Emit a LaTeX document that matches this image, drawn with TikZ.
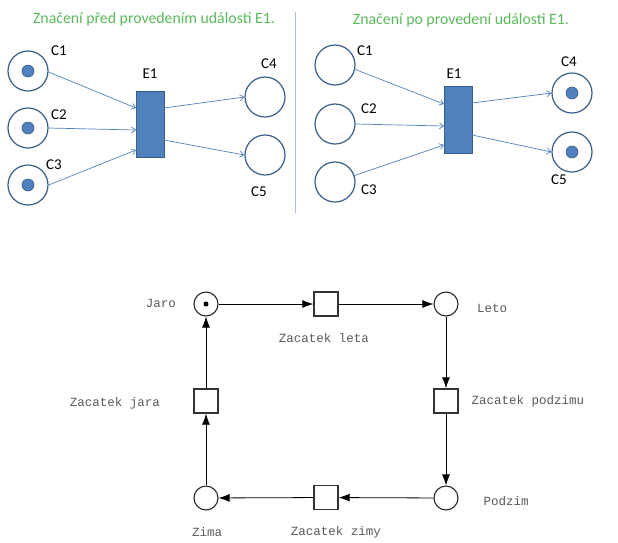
\documentclass[tikz,border=0pt]{standalone}
\usepackage{fontspec}
\setmainfont{Carlito}
\newfontfamily\monofont{Liberation Mono}
\usetikzlibrary{arrows.meta}
\definecolor{ofblue}{RGB}{79,129,189}
\definecolor{ofdark}{RGB}{56,93,138}
\definecolor{ofgreen}{RGB}{90,185,90}
\definecolor{sepcol}{RGB}{175,190,210}
\tikzset{
  title/.style={text=ofgreen,font=\fontsize{15.8}{18}\selectfont,inner sep=0pt},
  lab/.style={font=\fontsize{15}{17}\selectfont,inner sep=0pt},
  place/.style={circle,draw=ofdark,line width=1.2pt,minimum size=40pt,inner sep=0pt},
  token/.style={circle,fill=ofblue,draw=ofdark,line width=0.6pt,minimum size=12pt,inner sep=0pt},
  trans/.style={rectangle,fill=ofblue,draw=ofdark,line width=0.8pt,inner sep=0pt},
  barrow/.style={draw=ofblue,line width=0.7pt,-{Straight Barb[length=4pt,width=6pt]}},
  bplace/.style={circle,draw=black!85,line width=1.1pt,minimum size=24pt,inner sep=0pt},
  btrans/.style={rectangle,draw=black!80,line width=1.3pt,minimum size=24pt,inner sep=0pt},
  btok/.style={circle,fill=black,minimum size=5pt,inner sep=0pt},
  mlab/.style={text=black!65,font=\monofont\fontsize{12.5}{14}\selectfont,inner sep=0pt},
  karrow/.style={draw=black,line width=0.8pt,-{Latex[length=11pt,width=8pt]}}
}
\begin{document}
\begin{tikzpicture}[x=1pt,y=-1pt]
\useasboundingbox (0,0) rectangle (618,542);
% ---------- left panel ----------
\node[title] (t1) at (154,19) {Značení před provedením události E1.};
\draw[sepcol,line width=1pt] (295,12) -- (295,213);
\node[place] (lc1) at (28,71) {};
\node[token] at (lc1) {};
\node[place] (lc2) at (28,128) {};
\node[token] at (lc2) {};
\node[place] (lc3) at (28,185) {};
\node[token] at (lc3) {};
\node[place] (lc4) at (265,97) {};
\node[place] (lc5) at (265,155) {};
\node[trans,minimum width=28pt,minimum height=66pt] (le1) at (150,124) {};
\node[lab] at (59,51) {C1};
\node[lab] at (59,115) {C2};
\node[lab] at (54,165) {C3};
\node[lab] at (150,74) {E1};
\node[lab] at (269,64) {C4};
\node[lab] at (259,192) {C5};
\coordinate (la1) at (136,108);
\coordinate (la2) at (136,130);
\coordinate (la3) at (136,150);
\coordinate (lb1) at (164,108);
\coordinate (lb2) at (164,140);
\draw[barrow] (lc1.east) ++(0,1) -- (la1);
\draw[barrow] (lc2.east) -- (la2);
\draw[barrow] (lc3.east) -- (la3);
\draw[barrow] (lb1) -- (lc4.west);
\draw[barrow] (lb2) -- (lc5.west);
% ---------- right panel ----------
\node[title] (t2) at (461,20) {Značení po provedení události E1.};
\node[place] (rc1) at (335,65) {};
\node[place] (rc2) at (335,124) {};
\node[place] (rc3) at (335,182) {};
\node[place] (rc4) at (572,93) {};
\node[token] at (rc4) {};
\node[place] (rc5) at (572,152) {};
\node[token] at (rc5) {};
\node[trans,minimum width=28pt,minimum height=67pt] (re1) at (458,119.5) {};
\node[lab] at (365,51) {C1};
\node[lab] at (369,109) {C2};
\node[lab] at (369,190) {C3};
\node[lab] at (454,74) {E1};
\node[lab] at (569,62) {C4};
\node[lab] at (559,180) {C5};
\coordinate (ra1) at (444,104);
\coordinate (ra2) at (444,126);
\coordinate (ra3) at (444,145);
\coordinate (rb1) at (472,103);
\coordinate (rb2) at (472,135);
\coordinate (rs1) at (354,69);
\coordinate (rs3) at (353,176);
\draw[barrow] (rs1) -- (ra1);
\draw[barrow] (rc2.east) -- (ra2);
\draw[barrow] (rs3) -- (ra3);
\draw[barrow] (rb1) -- (rc4.west);
\draw[barrow] (rb2) -- (rc5.west);
% ---------- bottom net ----------
\node[bplace] (jaro) at (206,304) {};
\node[btok] at (jaro) {};
\node[btrans] (zl) at (326,304) {};
\node[bplace] (leto) at (446,304) {};
\node[btrans] (zp) at (446,401) {};
\node[bplace] (podzim) at (446,498) {};
\node[btrans] (zz) at (326,497.5) {};
\node[bplace] (zima) at (206,498) {};
\node[btrans] (zj) at (206,401) {};
\draw[karrow] (jaro) -- (zl);
\draw[karrow] (zl) -- (leto);
\draw[karrow] (leto) -- (zp);
\draw[karrow] (zp) -- (podzim);
\draw[karrow] (podzim) -- (zz);
\draw[karrow] (zz) -- (zima);
\draw[karrow] (zima) -- (zj);
\draw[karrow] (zj) -- (jaro);
\node[mlab] at (161,303) {Jaro};
\node[mlab] at (492,308) {Leto};
\node[mlab] at (324,338) {Zacatek leta};
\node[mlab] at (528,401) {Zacatek podzimu};
\node[mlab] at (506,501) {Podzim};
\node[mlab] at (336,532) {Zacatek zimy};
\node[mlab] at (207,532) {Zima};
\node[mlab] at (115,403) {Zacatek jara};
\end{tikzpicture}
\end{document}
